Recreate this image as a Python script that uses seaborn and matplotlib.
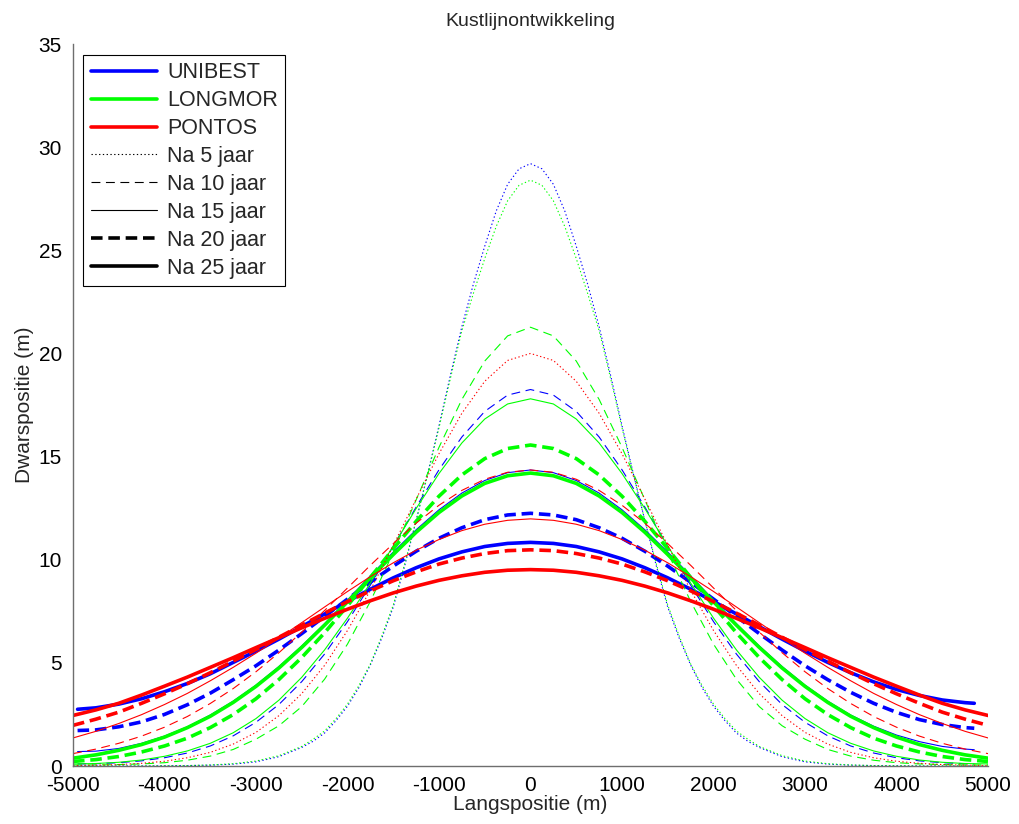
import numpy as np
import matplotlib
matplotlib.use("Agg")
import matplotlib.pyplot as plt
from matplotlib.lines import Line2D
import seaborn as sns

# ---------------- data ----------------
x_grid = list(range(-5000, 5001, 250))                       # LONGMOR / PONTOS
x_unibest = [-4950] + list(range(-4750, 4751, 250)) + [4850]  # UNIBEST
# finer spacing in the centre for the narrow 5-year profiles
x_five_l = list(range(-5000, -2500, 250)) + list(range(-2500, 2501, 125)) + list(range(2750, 5001, 250))
x_five_u = [-4950] + list(range(-4750, -2500, 250)) + list(range(-2500, 2501, 125)) + list(range(2750, 4751, 250)) + [4850]

unibest_5 = [0.0, 0.0, 0.0, 0.0, 0.01, 0.02, 0.04, 0.09, 0.2, 0.45,
             0.9, 1.2, 1.6, 2.2, 2.9, 3.8, 4.9, 6.2, 7.7, 9.7, 11.9, 14.15, 16.5, 18.95, 21.3, 23.35, 25.2, 26.9, 28.2, 28.95, 29.2,
             28.95, 28.2, 26.9, 25.2, 23.35, 21.3, 18.95, 16.5, 14.15, 11.9, 9.7, 7.7, 6.2, 4.9, 3.8, 2.9, 2.2, 1.6, 1.2, 0.9,
             0.45, 0.2, 0.09, 0.04, 0.02, 0.01, 0.0, 0.0, 0.0, 0.0]
unibest_10 = [0.1, 0.11, 0.16, 0.25, 0.4, 0.63, 0.97, 1.46, 2.12, 2.98, 4.09, 5.43, 7.0, 8.77, 10.65, 12.55, 14.36, 15.95, 17.19, 17.98, 18.25,
              17.98, 17.19, 15.95, 14.36, 12.55, 10.65, 8.77, 7.0, 5.43, 4.09, 2.98, 2.12, 1.46, 0.97, 0.63, 0.4, 0.25, 0.16, 0.11, 0.1]
unibest_15 = [0.7, 0.72, 0.85, 1.1, 1.45, 1.9, 2.47, 3.14, 3.92, 4.82, 5.82, 6.9, 8.05, 9.22, 10.37, 11.45, 12.42, 13.23, 13.84, 14.22, 14.35,
              14.22, 13.84, 13.23, 12.42, 11.45, 10.37, 9.22, 8.05, 6.9, 5.82, 4.82, 3.92, 3.14, 2.47, 1.93, 1.5, 1.18, 0.95, 0.82, 0.79]
unibest_20 = [1.72, 1.75, 1.9, 2.14, 2.5, 2.97, 3.53, 4.18, 4.86, 5.62, 6.42, 7.25, 8.09, 8.91, 9.69, 10.41, 11.04, 11.55, 11.94, 12.17, 12.25,
              12.17, 11.94, 11.55, 11.04, 10.41, 9.69, 8.91, 8.09, 7.25, 6.42, 5.62, 4.86, 4.18, 3.57, 3.04, 2.6, 2.25, 2.01, 1.86, 1.83]
unibest_25 = [2.75, 2.82, 3.0, 3.26, 3.6, 4.0, 4.47, 5.02, 5.57, 6.15, 6.76, 7.37, 7.98, 8.57, 9.12, 9.61, 10.04, 10.38, 10.64, 10.79, 10.84,
              10.79, 10.64, 10.38, 10.04, 9.61, 9.12, 8.57, 7.98, 7.37, 6.76, 6.15, 5.57, 5.02, 4.52, 4.08, 3.71, 3.42, 3.2, 3.07, 3.04]

longmor_5 = [0.0, 0.0, 0.0, 0.0, 0.01, 0.02, 0.05, 0.11, 0.24, 0.5,
             0.95, 1.3, 1.7, 2.3, 3.0, 3.9, 4.95, 6.3, 7.8, 9.8, 11.9, 14.1, 16.4, 18.8, 21.1, 22.9, 24.6, 26.15, 27.4, 28.15, 28.4,
             28.15, 27.4, 26.15, 24.6, 22.9, 21.1, 18.8, 16.4, 14.1, 11.9, 9.8, 7.8, 6.3, 4.95, 3.9, 3.0, 2.3, 1.7, 1.3, 0.95,
             0.5, 0.24, 0.11, 0.05, 0.02, 0.01, 0.0, 0.0, 0.0, 0.0]
longmor_10 = [0.05, 0.05, 0.07, 0.1, 0.16, 0.28, 0.48, 0.8, 1.3, 1.95, 2.88, 4.21, 5.91, 7.98, 10.35, 12.9, 15.45, 17.77, 19.63, 20.85, 21.27,
              20.85, 19.63, 17.77, 15.45, 12.9, 10.35, 7.98, 5.91, 4.21, 2.88, 1.95, 1.3, 0.8, 0.48, 0.28, 0.16, 0.1, 0.07, 0.05, 0.05]
longmor_15 = [0.1, 0.12, 0.18, 0.29, 0.47, 0.73, 1.1, 1.61, 2.3, 3.19, 4.3, 5.63, 7.17, 8.87, 10.67, 12.48, 14.18, 15.66, 16.82, 17.55, 17.8,
              17.55, 16.82, 15.66, 14.18, 12.48, 10.67, 8.87, 7.17, 5.63, 4.3, 3.19, 2.3, 1.61, 1.1, 0.73, 0.47, 0.29, 0.18, 0.12, 0.1]
longmor_20 = [0.22, 0.31, 0.46, 0.68, 0.97, 1.35, 1.86, 2.49, 3.26, 4.19, 5.26, 6.46, 7.77, 9.14, 10.53, 11.86, 13.08, 14.11, 14.9, 15.39, 15.56,
              15.39, 14.9, 14.11, 13.08, 11.86, 10.53, 9.14, 7.77, 6.46, 5.26, 4.19, 3.26, 2.49, 1.86, 1.35, 0.97, 0.68, 0.46, 0.31, 0.22]
longmor_25 = [0.38, 0.54, 0.76, 1.04, 1.4, 1.86, 2.41, 3.08, 3.86, 4.75, 5.75, 6.83, 7.96, 9.12, 10.25, 11.33, 12.29, 13.09, 13.7, 14.07, 14.2,
              14.07, 13.7, 13.09, 12.29, 11.33, 10.25, 9.12, 7.96, 6.83, 5.75, 4.75, 3.86, 3.08, 2.41, 1.86, 1.4, 1.04, 0.76, 0.54, 0.38]

pontos_5 = [0.02, 0.04, 0.07, 0.13, 0.23, 0.4, 0.66, 1.06, 1.63, 2.44, 3.51, 4.88, 6.57, 8.52, 10.69, 12.94, 15.14, 17.1, 18.65, 19.66, 20.0,
            19.66, 18.65, 17.1, 15.14, 12.94, 10.69, 8.52, 6.57, 4.88, 3.51, 2.44, 1.63, 1.06, 0.66, 0.4, 0.23, 0.13, 0.07, 0.04, 0.02]
pontos_10 = [0.6, 0.82, 1.1, 1.45, 1.88, 2.4, 3.03, 3.75, 4.57, 5.49, 6.49, 7.54, 8.63, 9.73, 10.78, 11.77, 12.64, 13.36, 13.9, 14.24, 14.35,
             14.24, 13.9, 13.36, 12.64, 11.77, 10.78, 9.73, 8.63, 7.54, 6.49, 5.49, 4.57, 3.75, 3.03, 2.4, 1.88, 1.45, 1.1, 0.82, 0.6]
pontos_15 = [1.36, 1.68, 2.06, 2.49, 2.98, 3.52, 4.13, 4.78, 5.47, 6.2, 6.95, 7.71, 8.46, 9.18, 9.85, 10.46, 10.98, 11.41, 11.72, 11.91, 11.98,
             11.91, 11.72, 11.41, 10.98, 10.46, 9.85, 9.18, 8.46, 7.71, 6.95, 6.2, 5.47, 4.78, 4.13, 3.52, 2.98, 2.49, 2.06, 1.68, 1.36]
pontos_20 = [1.97, 2.27, 2.61, 3.04, 3.5, 3.99, 4.52, 5.08, 5.65, 6.24, 6.83, 7.41, 7.97, 8.49, 8.98, 9.41, 9.79, 10.08, 10.3, 10.44, 10.48,
             10.44, 10.3, 10.08, 9.79, 9.41, 8.98, 8.49, 7.97, 7.41, 6.83, 6.24, 5.65, 5.08, 4.52, 3.99, 3.5, 3.04, 2.61, 2.27, 1.97]
pontos_25 = [2.45, 2.72, 3.04, 3.44, 3.87, 4.31, 4.78, 5.25, 5.74, 6.22, 6.7, 7.16, 7.6, 8.01, 8.39, 8.72, 9.0, 9.22, 9.39, 9.49, 9.52,
             9.49, 9.39, 9.22, 9.0, 8.72, 8.39, 8.01, 7.6, 7.16, 6.7, 6.22, 5.74, 5.25, 4.78, 4.31, 3.87, 3.44, 3.04, 2.72, 2.45]

model_names = ["UNIBEST", "LONGMOR", "PONTOS"]
period_labels = ["Na 5 jaar", "Na 10 jaar", "Na 15 jaar", "Na 20 jaar", "Na 25 jaar"]
title_text = "Kustlijnontwikkeling"
x_label = "Langspositie (m)"
y_label = "Dwarspositie (m)"

# ---------------- styling ----------------
sns.set_theme(style="white")
plt.rcParams["font.family"] = ["Liberation Sans", "DejaVu Sans"]
plt.rcParams["axes.unicode_minus"] = False

colors = {"UNIBEST": (0, 0, 1), "LONGMOR": (0, 1, 0), "PONTOS": (1, 0, 0)}
thin, thick = 0.8, 2.6
period_styles = [
    dict(lw=thin, ls=(0, (1.2, 2.2))),
    dict(lw=thin, ls=(0, (8, 5))),
    dict(lw=thin, ls="-"),
    dict(lw=thick, ls=(0, (3.2, 1.6))),
    dict(lw=thick, ls="-"),
]

series = {
    "UNIBEST": [(x_five_u, unibest_5), (x_unibest, unibest_10), (x_unibest, unibest_15),
                (x_unibest, unibest_20), (x_unibest, unibest_25)],
    "LONGMOR": [(x_five_l, longmor_5), (x_grid, longmor_10), (x_grid, longmor_15),
                (x_grid, longmor_20), (x_grid, longmor_25)],
    "PONTOS": [(x_grid, pontos_5), (x_grid, pontos_10), (x_grid, pontos_15),
               (x_grid, pontos_20), (x_grid, pontos_25)],
}

fig = plt.figure(figsize=(10.2, 8.24), dpi=100)
ax = fig.add_axes([73 / 1020, 1 - 766 / 824, (988 - 73) / 1020, (766 - 44) / 824])

for name in model_names:
    for (xs, ys), st in zip(series[name], period_styles):
        sns.lineplot(x=xs, y=ys, ax=ax, color=colors[name], linewidth=st["lw"],
                     linestyle=st["ls"], legend=False, estimator=None, sort=False)

ax.set_xlim(-5000, 5000)
ax.set_ylim(0, 35)
ax.set_xticks(range(-5000, 5001, 1000))
ax.set_yticks(range(0, 36, 5))
ax.tick_params(direction="in", length=7, width=0.8, labelsize=15, colors="black")
ax.tick_params(axis="x", pad=7)
ax.tick_params(axis="y", pad=8)
for side in ["top", "right"]:
    ax.spines[side].set_visible(False)
for side in ["left", "bottom"]:
    ax.spines[side].set_color("#6e6e6e")
    ax.spines[side].set_linewidth(1.0)
ax.set_title(title_text, fontsize=14, pad=13)
ax.set_xlabel(x_label, fontsize=15, labelpad=0)
ax.set_ylabel(y_label, fontsize=15, labelpad=3)

handles = [Line2D([], [], color=colors[n], lw=thick, ls="-") for n in model_names]
handles += [Line2D([], [], color="black", lw=st["lw"], ls=st["ls"]) for st in period_styles]
leg = ax.legend(handles, model_names + period_labels, loc="upper left",
                bbox_to_anchor=(0.011, 0.985), fontsize=15.5, handlelength=3.1,
                labelspacing=0.32, handletextpad=0.45, borderpad=0.35,
                fancybox=False, framealpha=1, edgecolor="black", borderaxespad=0)
leg.get_frame().set_linewidth(0.8)

fig.savefig("out.png", dpi=100, facecolor="white")
